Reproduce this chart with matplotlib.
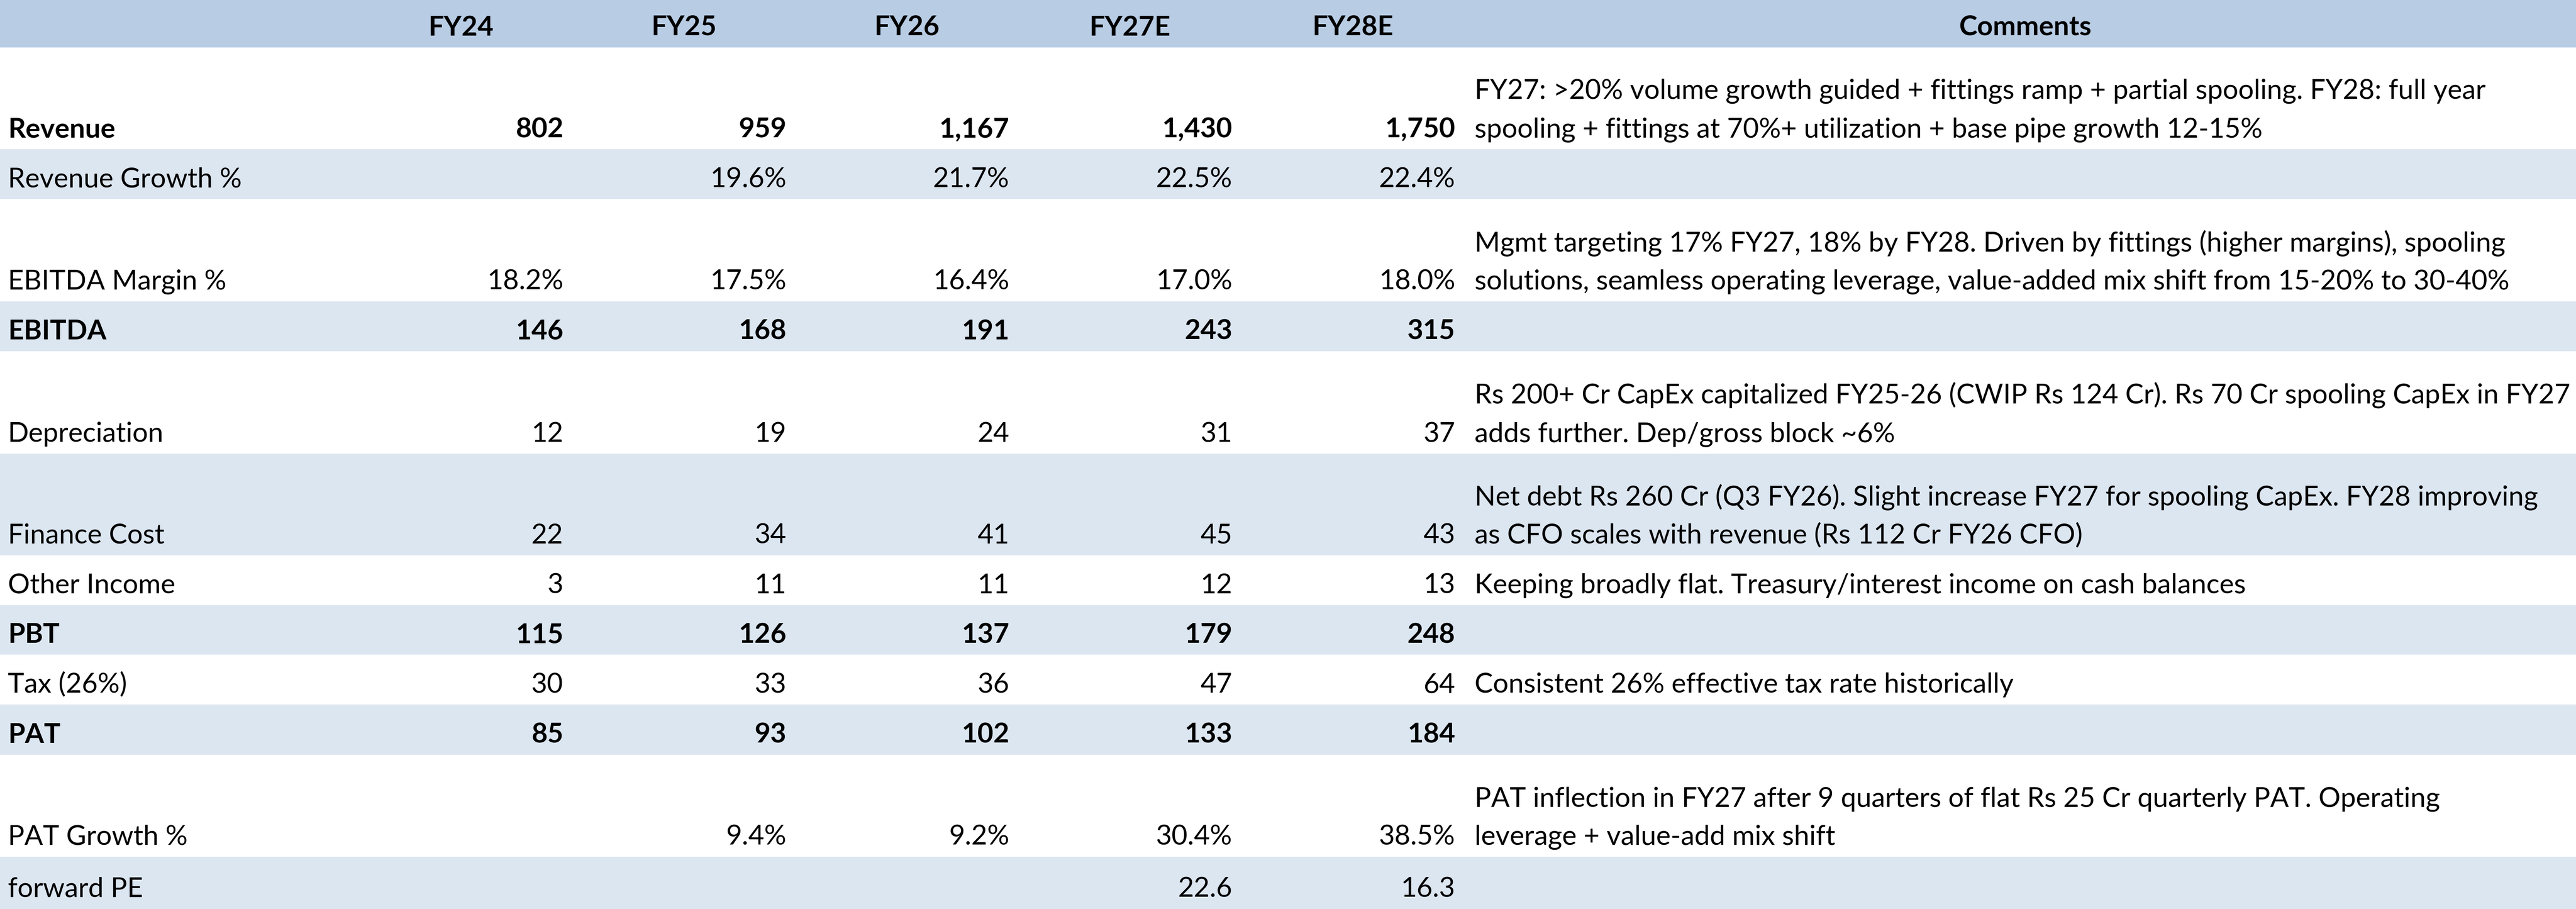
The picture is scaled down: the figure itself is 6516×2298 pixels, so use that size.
import matplotlib.pyplot as plt

# table data
years = ['FY24', 'FY25', 'FY26', 'FY27E', 'FY28E']
row_labels = ['Revenue', 'Revenue Growth %', 'EBITDA Margin %', 'EBITDA',
              'Depreciation', 'Finance Cost', 'Other Income', 'PBT',
              'Tax (26%)', 'PAT', 'PAT Growth %', 'forward PE']
bold_rows = ['Revenue', 'EBITDA', 'PBT', 'PAT']

revenue = ['802', '959', '1,167', '1,430', '1,750']
revenue_growth = ['', '19.6%', '21.7%', '22.5%', '22.4%']
ebitda_margin = ['18.2%', '17.5%', '16.4%', '17.0%', '18.0%']
ebitda = ['146', '168', '191', '243', '315']
depreciation = ['12', '19', '24', '31', '37']
finance_cost = ['22', '34', '41', '45', '43']
other_income = ['3', '11', '11', '12', '13']
pbt = ['115', '126', '137', '179', '248']
tax = ['30', '33', '36', '47', '64']
pat = ['85', '93', '102', '133', '184']
pat_growth = ['', '9.4%', '9.2%', '30.4%', '38.5%']
forward_pe = ['', '', '', '22.6', '16.3']

values = [revenue, revenue_growth, ebitda_margin, ebitda, depreciation,
          finance_cost, other_income, pbt, tax, pat, pat_growth, forward_pe]

comments = [
    'FY27: >20% volume growth guided + fittings ramp + partial spooling. FY28: full year\n'
    'spooling + fittings at 70%+ utilization + base pipe growth 12-15%',
    '',
    'Mgmt targeting 17% FY27, 18% by FY28. Driven by fittings (higher margins), spooling\n'
    'solutions, seamless operating leverage, value-added mix shift from 15-20% to 30-40%',
    '',
    'Rs 200+ Cr CapEx capitalized FY25-26 (CWIP Rs 124 Cr). Rs 70 Cr spooling CapEx in FY27\n'
    'adds further. Dep/gross block ~6%',
    'Net debt Rs 260 Cr (Q3 FY26). Slight increase FY27 for spooling CapEx. FY28 improving\n'
    'as CFO scales with revenue (Rs 112 Cr FY26 CFO)',
    'Keeping broadly flat. Treasury/interest income on cash balances',
    '',
    'Consistent 26% effective tax rate historically',
    '',
    'PAT inflection in FY27 after 9 quarters of flat Rs 25 Cr quarterly PAT. Operating\n'
    'leverage + value-add mix shift',
    '',
]

# layout (pixels)
W, H = 6516, 2298
header_h = 120
row_h = [257, 126, 259, 126, 259, 257, 126, 125, 126, 127, 258, 132]
header_color = '#B8CCE4'
band_color = '#DCE6F1'
col_center0 = 1166
col_step = 564
comment_x = 3730
line_gap = 97
base_pad = 30

plt.rcParams['font.family'] = ['Lato', 'DejaVu Sans']
fs = 50

fig = plt.figure(figsize=(W / 100, H / 100), dpi=100)
ax = fig.add_axes([0, 0, 1, 1])
ax.set_xlim(0, W)
ax.set_ylim(H, 0)
ax.axis('off')

# header
ax.barh(header_h / 2, W, height=header_h, left=0, color=header_color, linewidth=0)
hb = header_h - base_pad
for i, yr in enumerate(years):
    ax.text(col_center0 + i * col_step, hb, yr, ha='center', va='baseline',
            fontsize=fs, fontweight='bold')
ax.text((comment_x + W) / 2, hb, 'Comments', ha='center', va='baseline',
        fontsize=fs, fontweight='bold')

top = header_h
for r, label in enumerate(row_labels):
    h = row_h[r]
    if r % 2 == 1:
        ax.barh(top + h / 2, W, height=h, left=0, color=band_color, linewidth=0)
    base = top + h - base_pad
    weight = 'bold' if label in bold_rows else 'normal'
    ax.text(20, base, label, ha='left', va='baseline', fontsize=fs, fontweight=weight)
    for i, v in enumerate(values[r]):
        if v:
            ax.text(col_center0 + i * col_step + 259, base, v, ha='right',
                    va='baseline', fontsize=fs, fontweight=weight)
    lines = comments[r].split('\n') if comments[r] else []
    for k, line in enumerate(reversed(lines)):
        ax.text(comment_x, base - k * line_gap, line, ha='left', va='baseline',
                fontsize=fs)
    top += h

fig.savefig('out.png', dpi=100)
